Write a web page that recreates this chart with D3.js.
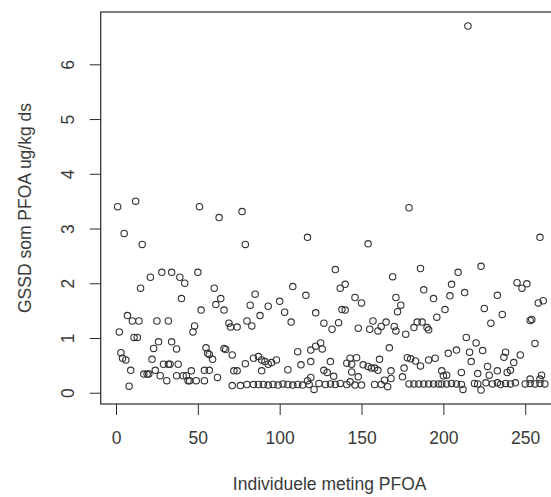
<!DOCTYPE html>
<html>
<head>
<meta charset="utf-8">
<script src="https://cdn.jsdelivr.net/npm/d3@7"></script>
<style>
  html, body { margin: 0; padding: 0; background: #fff; overflow: hidden; }
  svg { display: block; }
</style>
</head>
<body>
<script>
const meting = [
  1, 2, 3, 4, 5, 6, 7, 8, 9, 10, 11, 12, 13, 14, 15, 16, 17, 19, 20, 21,
  22, 23, 24, 25, 26, 27, 28, 29, 31, 32, 32, 33, 34, 34, 37, 37, 38, 39, 40, 41,
  42, 43, 44, 45, 46, 47, 48, 49, 50, 51, 52, 54, 54, 55, 56, 57, 57, 59, 60, 61,
  62, 63, 64, 66, 66, 67, 69, 70, 71, 71, 72, 74, 74, 76, 77, 79, 79, 80, 80, 82,
  83, 84, 84, 85, 87, 87, 88, 89, 89, 90, 91, 93, 93, 93, 95, 96, 98, 99, 100, 102,
  103, 105, 105, 107, 108, 108, 111, 111, 113, 114, 116, 117, 117, 118, 119, 119, 119, 121, 122, 122,
  124, 125, 126, 127, 127, 128, 129, 131, 131, 132, 133, 134, 134, 136, 137, 137, 138, 140, 140, 141,
  141, 143, 143, 144, 144, 146, 146, 147, 148, 148, 150, 150, 151, 154, 154, 155, 156, 157, 158, 158,
  160, 160, 161, 162, 162, 164, 165, 166, 167, 168, 168, 169, 170, 171, 171, 172, 174, 175, 176, 177,
  178, 179, 179, 180, 182, 182, 183, 184, 185, 186, 186, 187, 188, 188, 190, 191, 191, 191, 194, 194,
  195, 196, 197, 199, 199, 200, 201, 202, 202, 203, 204, 205, 205, 208, 208, 209, 211, 211, 212, 213,
  214, 215, 216, 217, 219, 220, 221, 221, 223, 223, 224, 225, 226, 227, 228, 229, 230, 233, 233, 233,
  235, 236, 237, 238, 238, 239, 241, 241, 243, 244, 245, 247, 248, 250, 251, 253, 253, 253, 254, 256,
  256, 258, 259, 259, 259, 260, 261, 262
];
const gssd = [
  3.40, 1.11, 0.73, 0.63, 2.91, 0.60, 1.41, 0.12, 0.41, 1.31, 1.01, 3.50, 1.01, 1.31, 1.91, 2.71, 0.34, 0.34, 0.34, 2.11,
  0.61, 0.81, 0.41, 1.31, 0.93, 0.31, 2.20, 0.52, 0.22, 1.31, 0.52, 0.52, 2.20, 0.93, 0.80, 0.31, 0.52, 2.11, 1.72, 0.31,
  2.00, 0.31, 0.22, 0.22, 0.40, 1.11, 1.22, 0.22, 2.20, 3.40, 1.51, 0.22, 0.41, 0.82, 0.72, 0.70, 0.41, 0.61, 1.91, 1.61,
  0.28, 3.20, 1.72, 1.51, 0.81, 0.79, 1.27, 1.20, 0.69, 0.13, 0.40, 0.40, 1.20, 0.13, 3.31, 2.71, 0.53, 1.31, 0.15, 1.60,
  1.22, 0.63, 0.15, 1.80, 0.66, 0.15, 1.41, 0.60, 0.40, 0.15, 0.57, 1.58, 0.52, 0.14, 0.55, 0.15, 0.60, 0.14, 1.67, 0.16,
  1.47, 0.42, 0.15, 1.29, 1.94, 0.14, 0.75, 0.15, 0.51, 0.14, 1.78, 2.84, 0.22, 0.15, 0.78, 0.57, 0.28, 0.06, 0.85, 1.46,
  0.17, 0.91, 0.80, 0.41, 1.27, 0.15, 0.37, 0.57, 0.16, 1.16, 0.30, 2.25, 0.15, 1.28, 1.91, 0.17, 1.52, 1.51, 1.98, 0.54,
  0.15, 0.63, 0.20, 0.52, 0.38, 1.74, 0.14, 0.64, 1.18, 0.29, 1.64, 0.14, 0.51, 2.72, 0.48, 1.16, 0.45, 1.31, 0.45, 0.15,
  1.13, 0.41, 0.61, 1.21, 0.15, 0.23, 1.29, 0.11, 0.82, 0.40, 0.26, 2.12, 1.21, 1.13, 1.74, 1.48, 1.60, 0.29, 0.45, 1.07,
  0.64, 3.38, 0.16, 0.62, 1.19, 0.16, 0.58, 1.29, 0.16, 0.49, 2.27, 1.29, 1.88, 0.16, 1.19, 1.15, 0.60, 0.16, 1.72, 0.16,
  0.63, 1.38, 0.16, 0.40, 0.16, 0.31, 1.52, 0.16, 0.32, 0.72, 1.77, 1.98, 0.17, 0.78, 0.16, 2.20, 0.37, 0.15, 0.06, 1.83,
  1.01, 6.70, 0.74, 0.57, 0.17, 0.91, 0.35, 0.16, 2.31, 0.05, 0.77, 1.54, 0.18, 0.48, 0.32, 1.27, 0.16, 1.78, 0.40, 0.18,
  0.15, 1.43, 0.65, 0.74, 0.17, 0.37, 0.41, 0.16, 0.55, 0.18, 2.01, 0.69, 1.91, 0.16, 1.99, 1.32, 0.25, 0.17, 1.34, 0.90,
  0.16, 1.64, 2.84, 0.25, 0.17, 0.32, 1.68, 0.16
];
const xTicks = [0, 50, 100, 150, 200, 250];
const yTicks = [0, 1, 2, 3, 4, 5, 6];
const xLabel = "Individuele meting PFOA";
const yLabel = "GSSD som PFOA ug/kg ds";

const width = 551, height = 497;
// plot region, the right side runs past the picture edge like the original
const plotLeft = 100.7, plotTop = 12, plotRight = 558.6, plotBottom = 404;
const fontSize = 17.5;
const ink = "#2b2b2b";
const textInk = "#3a3a3a";

const x = d3.scaleLinear().domain([-9.35, 270.4]).range([plotLeft, plotRight]);
const y = d3.scaleLinear().domain([-0.206, 6.956]).range([plotBottom, plotTop]);

const svg = d3.select("body").append("svg")
    .attr("width", width)
    .attr("height", height)
    .attr("font-family", "'Liberation Sans', Arial, sans-serif")
    .attr("font-size", fontSize)
    .attr("fill", textInk);

// points (pch = 1)
svg.append("g")
    .attr("fill", "none")
    .attr("stroke", "#333")
    .attr("stroke-width", 1.1)
  .selectAll("circle")
  .data(meting.map((m, i) => [m, gssd[i]]))
  .join("circle")
    .attr("cx", d => x(d[0]))
    .attr("cy", d => y(d[1]))
    .attr("r", 3.2);

// box
svg.append("rect")
    .attr("x", plotLeft)
    .attr("y", plotTop)
    .attr("width", plotRight - plotLeft)
    .attr("height", plotBottom - plotTop)
    .attr("fill", "none")
    .attr("stroke", ink)
    .attr("stroke-width", 1.2);

const xAxis = svg.append("g")
    .attr("transform", `translate(0,${plotBottom})`)
    .call(d3.axisBottom(x).tickValues(xTicks).tickSize(11).tickFormat(d3.format("d")));
xAxis.select(".domain").remove();
xAxis.selectAll(".tick line").attr("stroke", ink);
xAxis.selectAll(".tick text")
    .attr("y", 40)
    .attr("dy", null)
    .attr("fill", textInk)
    .attr("font-size", fontSize)
    .attr("font-family", "'Liberation Sans', Arial, sans-serif");

const yAxis = svg.append("g")
    .attr("transform", `translate(${plotLeft},0)`)
    .call(d3.axisLeft(y).tickValues(yTicks).tickSize(11).tickFormat(d3.format("d")));
yAxis.select(".domain").remove();
yAxis.selectAll(".tick line").attr("stroke", ink);
yAxis.selectAll(".tick text")
    .attr("x", null)
    .attr("dy", null)
    .attr("text-anchor", "middle")
    .attr("transform", "translate(-27.2,0) rotate(-90)")
    .attr("fill", textInk)
    .attr("font-size", fontSize)
    .attr("font-family", "'Liberation Sans', Arial, sans-serif");

svg.append("text")
    .attr("x", (plotLeft + plotRight) / 2)
    .attr("y", 490)
    .attr("text-anchor", "middle")
    .text(xLabel);

svg.append("text")
    .attr("transform", `translate(31,${(plotTop + plotBottom) / 2}) rotate(-90)`)
    .attr("text-anchor", "middle")
    .text(yLabel);
</script>
</body>
</html>
